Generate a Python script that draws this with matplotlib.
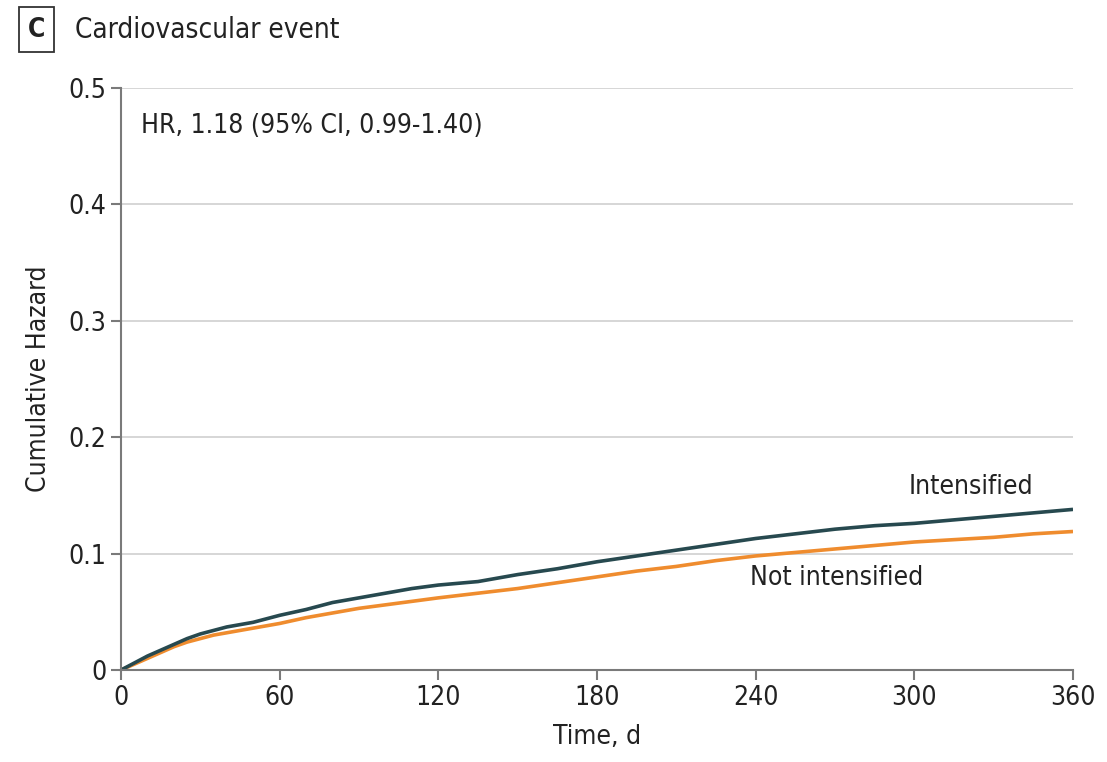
import matplotlib.pyplot as plt

days = [0, 5, 10, 15, 20, 25, 30, 35, 40, 50, 60, 70, 80, 90, 100, 110, 120, 135, 150,
        165, 180, 195, 210, 225, 240, 255, 270, 285, 300, 315, 330, 345, 360]
intensified = [0, 0.006, 0.012, 0.017, 0.022, 0.027, 0.031, 0.034, 0.037, 0.041, 0.047, 0.052, 0.058,
               0.062, 0.066, 0.070, 0.073, 0.076, 0.082, 0.087, 0.093, 0.098, 0.103, 0.108, 0.113,
               0.117, 0.121, 0.124, 0.126, 0.129, 0.132, 0.135, 0.138]
not_intensified = [0, 0.005, 0.010, 0.015, 0.020, 0.024, 0.027, 0.030, 0.032, 0.036, 0.040, 0.045, 0.049,
                   0.053, 0.056, 0.059, 0.062, 0.066, 0.070, 0.075, 0.080, 0.085, 0.089, 0.094, 0.098,
                   0.101, 0.104, 0.107, 0.110, 0.112, 0.114, 0.117, 0.119]
xticks = [0, 60, 120, 180, 240, 300, 360]
yticks = [0, 0.1, 0.2, 0.3, 0.4, 0.5]
yticklabels = ["0", "0.1", "0.2", "0.3", "0.4", "0.5"]

plt.rcParams["font.family"] = ["DejaVu Sans"]
plt.rcParams["font.stretch"] = "condensed"

txt = "#222222"
fs = 19
fig = plt.figure(figsize=(11.07, 7.62), dpi=100)
ax = fig.add_axes([0.1093, 0.1207, 0.8600, 0.7638])

ax.plot(days, not_intensified, color="#ef8c2e", lw=2.6, solid_capstyle="butt")
ax.plot(days, intensified, color="#27494f", lw=2.6, solid_capstyle="butt")

ax.set_xlim(0, 360)
ax.set_ylim(0, 0.5)
ax.set_xticks(xticks)
ax.set_yticks(yticks)
ax.set_yticklabels(yticklabels)
ax.grid(axis="y", color="#cfcfcf", lw=1.2)
ax.set_axisbelow(True)
for s in ["top", "right"]:
    ax.spines[s].set_visible(False)
for s in ["left", "bottom"]:
    ax.spines[s].set_color("#7a7a7a")
    ax.spines[s].set_linewidth(1.5)
ax.tick_params(colors="#7a7a7a", width=1.5, length=7, labelsize=fs, labelcolor=txt)
ax.set_xlabel("Time, d", fontsize=fs, color=txt, labelpad=10)
ax.set_ylabel("Cumulative Hazard", fontsize=fs, color=txt, labelpad=12)

ax.text(0.021, 0.935, "HR, 1.18 (95% CI, 0.99-1.40)", transform=ax.transAxes,
        fontsize=fs, color=txt, va="center")
ax.text(345, 0.157, "Intensified", fontsize=fs, color=txt, ha="right", va="center")
ax.text(238, 0.079, "Not intensified", fontsize=fs, color=txt, ha="left", va="center")

fig.text(0.033, 0.961, "C", fontsize=fs, color=txt, fontweight="bold", ha="center", va="center",
         bbox=dict(boxstyle="square,pad=0.35", fc="white", ec="#333333", lw=1.3))
fig.text(0.068, 0.961, "Cardiovascular event", fontsize=20, color=txt, va="center")

fig.savefig("out.png", dpi=100)
